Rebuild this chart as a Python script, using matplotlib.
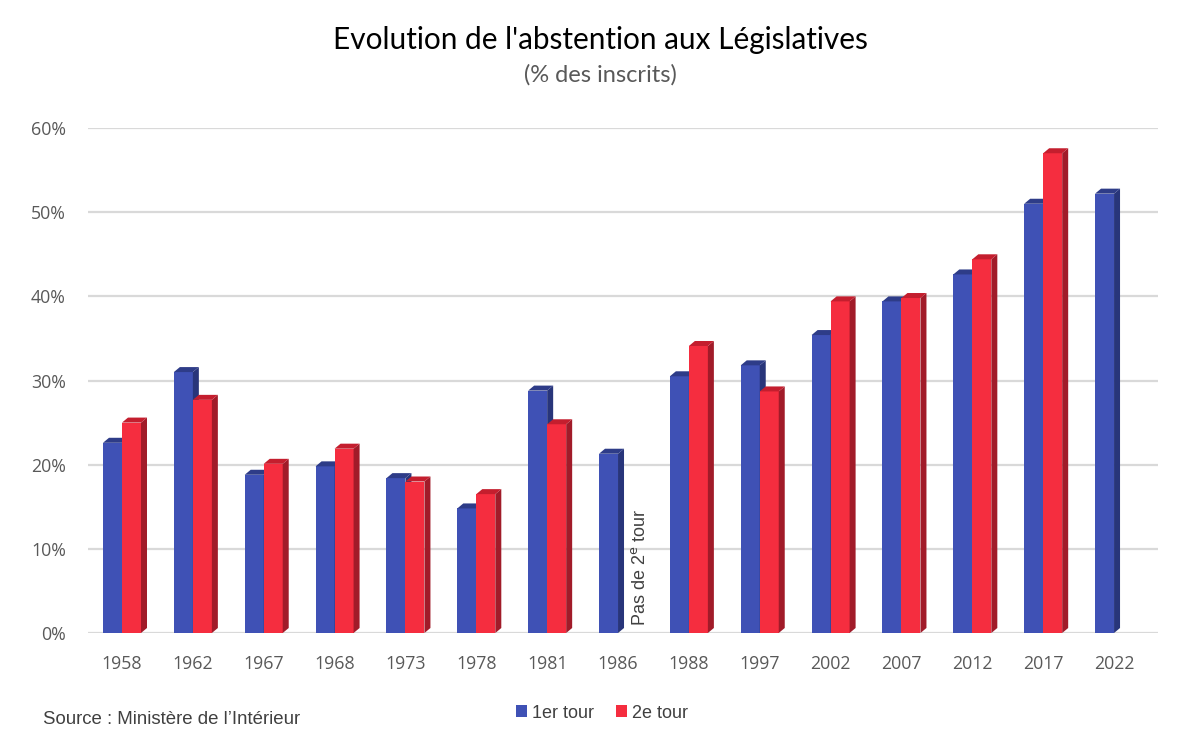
import matplotlib
matplotlib.use("Agg")
import matplotlib.pyplot as plt
from matplotlib.patches import Polygon, Rectangle
from matplotlib.ticker import FuncFormatter
import numpy as np

years = ["1958", "1962", "1967", "1968", "1973", "1978", "1981", "1986",
         "1988", "1997", "2002", "2007", "2012", "2017", "2022"]
tour1 = [22.6, 31.0, 18.8, 19.8, 18.4, 14.8, 28.8, 21.3,
         30.5, 31.8, 35.4, 39.4, 42.6, 51.0, 52.2]
tour2 = [25.0, 27.7, 20.1, 21.9, 18.0, 16.5, 24.8, None,
         34.1, 28.7, 39.4, 39.8, 44.4, 57.0, None]
yticks = [0, 10, 20, 30, 40, 50, 60]

fig = plt.figure(figsize=(12, 7.48), dpi=100)
ax = fig.add_axes([88/1200, 1 - 633/748, (1158-88)/1200, (633-128)/748])

W = 70.86                 # px per category
bw = 19 / W               # bar width in data units
ppy = (633 - 128) / 60.0  # px per percent
dx = 6 / W
dy = 5 / ppy

blue = dict(front="#3F51B5", top="#2E3C88", side="#28357A")
red = dict(front="#F52D3F", top="#C41E2E", side="#A11B29")

def bar3d(x0, h, c):
    ax.add_patch(Rectangle((x0, 0), bw, h, facecolor=c["front"], edgecolor="none", zorder=3))
    ax.add_patch(Polygon([(x0 + bw, 0), (x0 + bw + dx, dy), (x0 + bw + dx, h + dy), (x0 + bw, h)],
                         closed=True, facecolor=c["side"], edgecolor="none", zorder=3))
    ax.add_patch(Polygon([(x0, h), (x0 + dx, h + dy), (x0 + bw + dx, h + dy), (x0 + bw, h)],
                         closed=True, facecolor=c["top"], edgecolor="none", zorder=3))

for i, a in enumerate(tour1):
    bar3d(i - bw, a, blue)
for i, b in enumerate(tour2):
    if b is not None:
        bar3d(i, b, red)

ax.set_xlim((88 - 122) / W, (1158 - 122) / W)
ax.set_ylim(0, 60)
ax.set_yticks(yticks)
ax.yaxis.set_major_formatter(FuncFormatter(lambda v, p: f"{int(v)}%"))
ax.set_xticks(range(len(years)))
ax.set_xticklabels(years)
ax.grid(axis="y", color="#D9D9D9", linewidth=1.6, zorder=0)
ax.set_axisbelow(True)
for s in ax.spines.values():
    s.set_visible(False)
ax.tick_params(axis="both", length=0, labelsize=12.8, colors="#595959")
ax.tick_params(axis="x", pad=16)
ax.tick_params(axis="y", pad=16)
for lab in ax.get_xticklabels() + ax.get_yticklabels():
    lab.set_fontfamily("Open Sans")
    lab.set_color("#595959")

ax.text(7 + 0.31, 0.8, "Pas de 2$^{\\mathrm{e}}$ tour", rotation=90, ha="center", va="bottom",
        fontsize=13, color="#404040", family="Liberation Sans", zorder=4)

fig.text(0.5, 1 - 40/748, "Evolution de l'abstention aux Législatives", ha="center", va="center",
         fontsize=21.4, family="Lato", color="black")
fig.text(0.5, 1 - 75/748, "(% des inscrits)", ha="center", va="center",
         fontsize=17, family="Lato", color="#595959")
fig.text(43/1200, 1 - 719/748, "Source : Ministère de l\u2019Intérieur", ha="left", va="center",
         fontsize=13.4, family="Liberation Sans", color="#404040")

h1 = Rectangle((0, 0), 1, 1, facecolor=blue["front"])
h2 = Rectangle((0, 0), 1, 1, facecolor=red["front"])
fig.legend([h1, h2], ["1er tour", "2e tour"], loc="center", bbox_to_anchor=(602/1200, 1 - 713/748),
           ncol=2, frameon=False, handlelength=0.6, handleheight=0.6, handletextpad=0.3,
           columnspacing=1.2, prop={"family": "Liberation Sans", "size": 13}, labelcolor="#404040")

fig.savefig("out.png", dpi=100, facecolor="white")
